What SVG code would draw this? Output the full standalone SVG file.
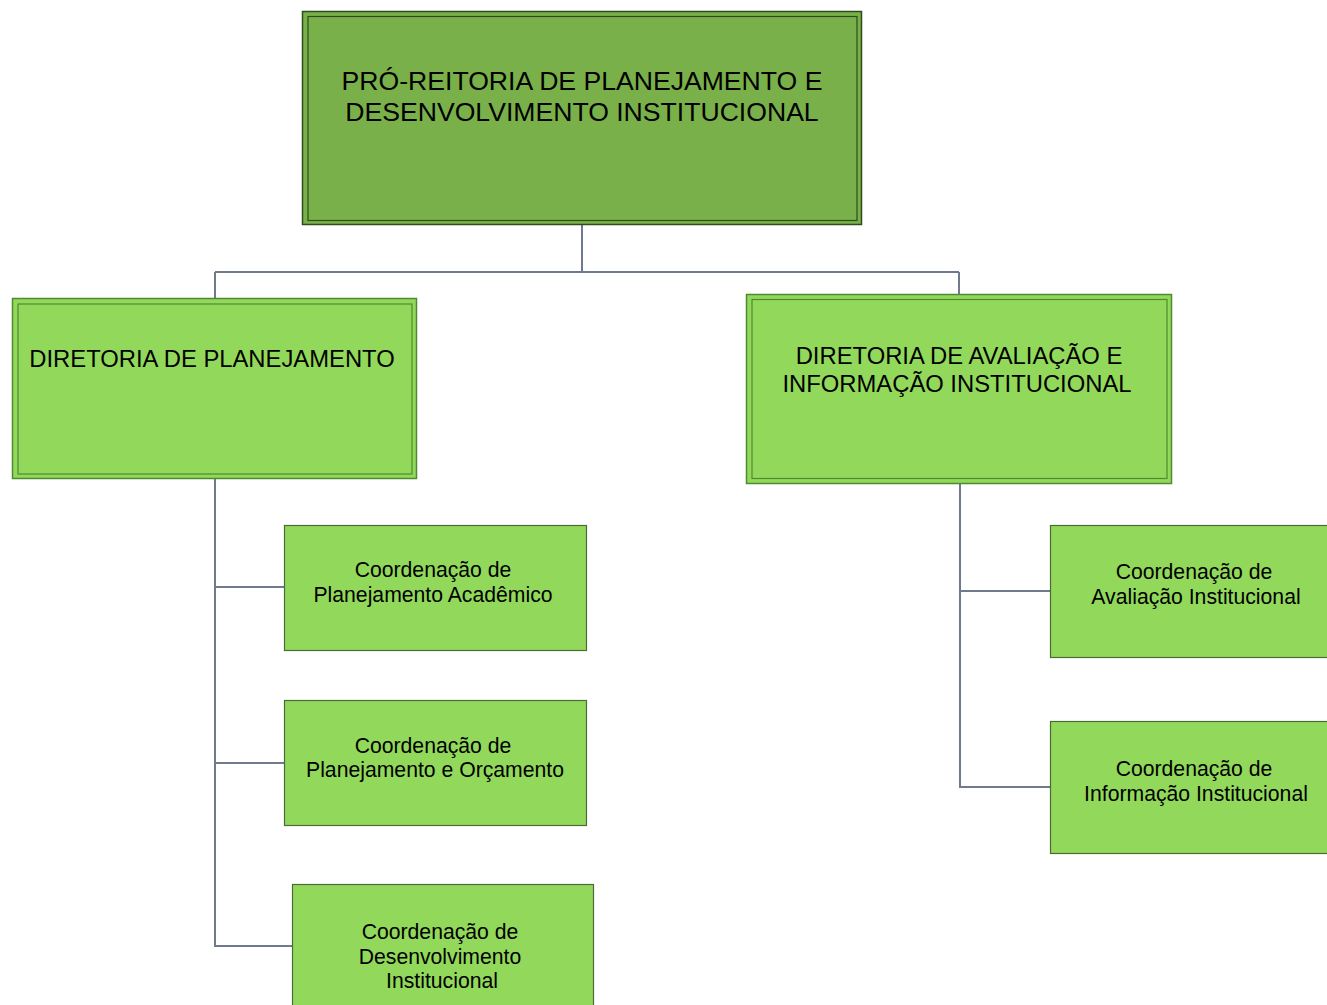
<svg xmlns="http://www.w3.org/2000/svg" width="1327" height="1005" viewBox="0 0 1327 1005">
<style>
text{font-family:"Liberation Sans",Arial,sans-serif;fill:#000;text-anchor:middle}
.top{fill:#7ab04a;stroke:#2e4d1c;stroke-width:1.5}
.topin{fill:none;stroke:#2e4d1c;stroke-width:1.2}
.dir{fill:#92d95b;stroke:#4f8a30;stroke-width:1.5}
.dirin{fill:none;stroke:#4f8a30;stroke-width:1.2}
.co{fill:#92d95b;stroke:#4c6a38;stroke-width:1.2}
.t1{font-size:26.6px}
.t2{font-size:23.8px}
.t3{font-size:21.2px}
.conn{fill:none;stroke:#6f7b8c;stroke-width:2}
</style>
<rect width="1327" height="1005" fill="#fff"/>
<g id="connectors">
<path class="conn" d="M582 225V272M215 272H959M215 272V298M959 272V294"/>
<path class="conn" d="M215 479V946H292M215 587H284M215 763H284"/>
<path class="conn" d="M960 484V787H1050M960 591H1050"/>
</g>
<g id="pro-reitoria">
<rect class="top" x="302.5" y="11.5" width="559" height="213"/>
<rect class="topin" x="308" y="16.5" width="549" height="204"/>
<text class="t1" x="582" y="90">PRÓ-REITORIA DE PLANEJAMENTO E</text>
<text class="t1" x="582" y="121">DESENVOLVIMENTO INSTITUCIONAL</text>
</g>
<g id="diretoria-planejamento">
<rect class="dir" x="12.5" y="298.5" width="404" height="180"/>
<rect class="dirin" x="18" y="304" width="394" height="170"/>
<text class="t2" x="212" y="366.5">DIRETORIA DE PLANEJAMENTO</text>
</g>
<g id="diretoria-avaliacao">
<rect class="dir" x="746.5" y="294.5" width="425" height="189"/>
<rect class="dirin" x="752" y="299.5" width="415" height="179"/>
<text class="t2" x="959" y="363.5">DIRETORIA DE AVALIAÇÃO E</text>
<text class="t2" x="957" y="391.5">INFORMAÇÃO INSTITUCIONAL</text>
</g>
<g id="coord-planejamento-academico">
<rect class="co" x="284.5" y="525.5" width="302" height="125"/>
<text class="t3" x="433" y="576.5">Coordenação de</text>
<text class="t3" x="433" y="601.5">Planejamento Acadêmico</text>
</g>
<g id="coord-planejamento-orcamento">
<rect class="co" x="284.5" y="700.5" width="302" height="125"/>
<text class="t3" x="433" y="752.5">Coordenação de</text>
<text class="t3" x="435" y="776.5">Planejamento e Orçamento</text>
</g>
<g id="coord-desenvolvimento">
<rect class="co" x="292.5" y="884.5" width="301" height="130"/>
<text class="t3" x="440" y="938.5">Coordenação de</text>
<text class="t3" x="440" y="963.5">Desenvolvimento</text>
<text class="t3" x="442" y="987.5">Institucional</text>
</g>
<g id="coord-avaliacao">
<rect class="co" x="1050.5" y="525.5" width="290" height="132"/>
<text class="t3" x="1194" y="578.5">Coordenação de</text>
<text class="t3" x="1196" y="603.5">Avaliação Institucional</text>
</g>
<g id="coord-informacao">
<rect class="co" x="1050.5" y="721.5" width="290" height="132"/>
<text class="t3" x="1194" y="775.5">Coordenação de</text>
<text class="t3" x="1196" y="800.5">Informação Institucional</text>
</g>
</svg>
